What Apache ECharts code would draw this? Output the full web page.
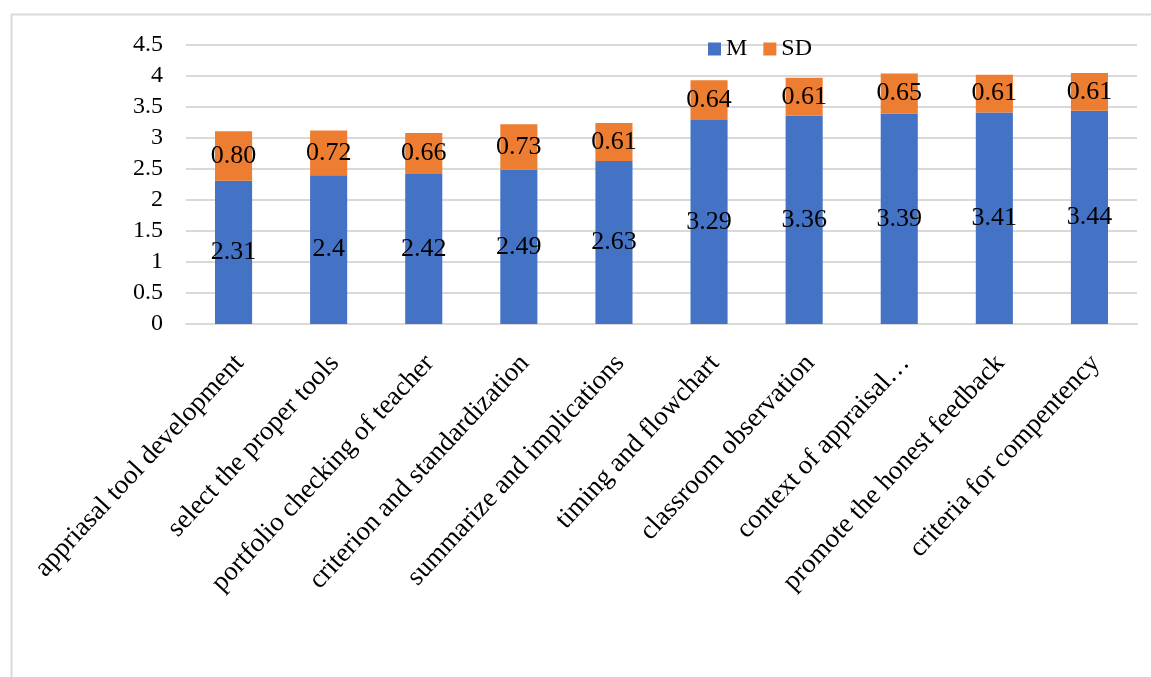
<!DOCTYPE html>
<html>
<head>
<meta charset="utf-8">
<script src="https://cdn.jsdelivr.net/npm/echarts@6/dist/echarts.min.js"></script>
<style>
  html, body { margin: 0; padding: 0; background: #fff; }
  #chart { width: 1151px; height: 677px; }
</style>
</head>
<body>
<div id="chart"></div>
<script>
// Appraisal items (x axis)
const categories = [
  'appriasal tool development',
  'select the proper tools',
  'portfolio checking of teacher',
  'criterion and standardization',
  'summarize and implications',
  'timing and flowchart',
  'classroom observation',
  'context of appraisal…',
  'promote the honest feedback',
  'criteria for compentency'
];
// Mean score per item
const meanValues = [2.31, 2.4, 2.42, 2.49, 2.63, 3.29, 3.36, 3.39, 3.41, 3.44];
// Standard deviation per item (stacked on top of the mean)
const sdValues = [0.80, 0.72, 0.66, 0.73, 0.61, 0.64, 0.61, 0.65, 0.61, 0.61];

const FONT = '"Liberation Serif", "Times New Roman", serif';

const chart = echarts.init(document.getElementById('chart'), null, { renderer: 'canvas' });
chart.setOption({
  animation: false,
  backgroundColor: '#ffffff',
  graphic: [{
    type: 'rect',
    left: 9, top: 12,
    shape: { x: 0, y: 0, width: 1300, height: 800 },
    style: { fill: 'none', stroke: '#d9d9d9', lineWidth: 2 },
    silent: true
  }],
  legend: {
    left: 703, top: 32,
    itemWidth: 13, itemHeight: 13, itemGap: 16,
    icon: 'rect',
    textStyle: { fontFamily: FONT, fontSize: 24, color: '#000', lineHeight: 24 },
    data: ['M', 'SD']
  },
  grid: [
    // plot area
    { left: 186, right: 14, top: 45, bottom: 353 },
    // same span nudged right; carries only the slanted category labels
    { left: 192, right: 8, top: 45, bottom: 353 }
  ],
  xAxis: [
    {
      type: 'category',
      data: categories,
      axisTick: { show: false },
      axisLine: { lineStyle: { color: '#d9d9d9', width: 2 } },
      axisLabel: { show: false }
    },
    {
      type: 'category',
      gridIndex: 1,
      data: categories,
      axisTick: { show: false },
      axisLine: { show: false },
      splitLine: { show: false },
      axisLabel: {
        rotate: 47, interval: 0, margin: 35,
        fontFamily: FONT, fontSize: 27, color: '#000'
      }
    }
  ],
  yAxis: [
    {
      type: 'value',
      min: 0, max: 4.5, interval: 0.5,
      axisLine: { show: false },
      axisTick: { show: false },
      splitLine: { lineStyle: { color: '#d9d9d9', width: 2 } },
      axisLabel: { fontFamily: FONT, fontSize: 24, color: '#000', margin: 23 }
    },
    { type: 'value', gridIndex: 1, show: false, min: 0, max: 4.5 }
  ],
  series: [
    {
      name: 'M', type: 'bar', stack: 'total', barWidth: '39%',
      itemStyle: { color: '#4472C4' },
      label: { show: true, position: 'inside', fontFamily: FONT, fontSize: 26, color: '#000' },
      data: meanValues
    },
    {
      name: 'SD', type: 'bar', stack: 'total', barWidth: '39%',
      itemStyle: { color: '#ED7D31' },
      label: {
        show: true, position: 'inside', fontFamily: FONT, fontSize: 26, color: '#000',
        formatter: p => p.value.toFixed(2)
      },
      data: sdValues
    }
  ]
});
</script>
</body>
</html>
